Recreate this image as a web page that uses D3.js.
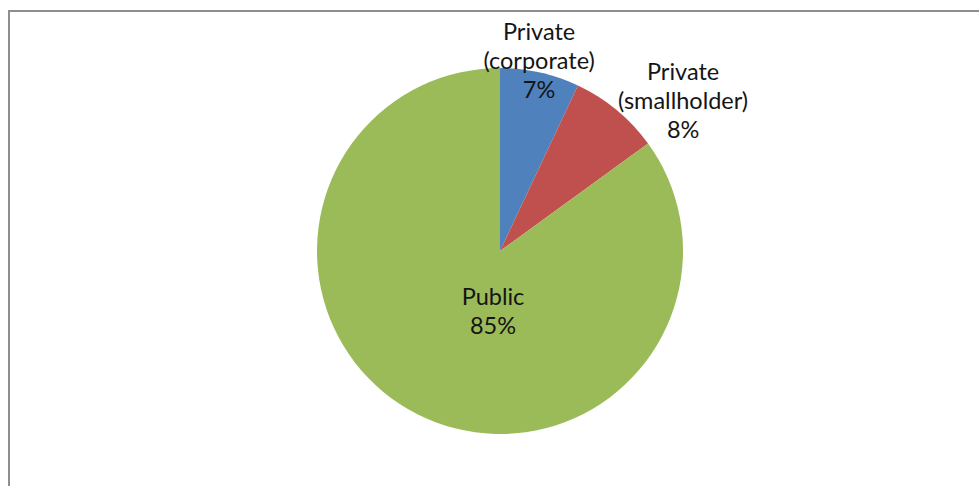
<!DOCTYPE html>
<html>
<head>
<meta charset="utf-8">
<script src="https://cdn.jsdelivr.net/npm/d3@7"></script>
<style>
  html, body { margin: 0; padding: 0; background: #fff; }
  svg { display: block; }
</style>
</head>
<body>
<svg id="chart" width="979" height="486"></svg>
<script>
// Ownership shares (%)
const categories = ["Private (corporate)", "Private (smallholder)", "Public"];
const values = [7, 8, 85];
const labelLines = [["Private", "(corporate)", "7%"], ["Private", "(smallholder)", "8%"], ["Public", "85%"]];
const colors = ["#4F81BD", "#C0504D", "#9BBB59"];

const W = 979, H = 486;
const cx = 500, cy = 251, R = 183;
const lineH = 29;

const svg = d3.select("#chart");

// chart frame
svg.append("rect")
  .attr("x", 9).attr("y", 11)
  .attr("width", W + 20).attr("height", H + 20)
  .attr("fill", "#fff")
  .attr("stroke", "#8e8e8e")
  .attr("stroke-width", 2);

const pie = d3.pie().sort(null).value(d => d)(values);
const arc = d3.arc().innerRadius(0).outerRadius(R);

const g = svg.append("g").attr("transform", `translate(${cx},${cy})`);

g.selectAll("path.slice")
  .data(pie)
  .enter().append("path")
  .attr("class", "slice")
  .attr("d", arc)
  .attr("fill", (d, i) => colors[i]);

// label placement: anchor point on the slice's mid-angle at a given radius
const placement = [
  { r: 193, dx: -3, dy: 0 },
  { r: 190, dx: 62, dy: -1.5 },
  { r: 0, dx: -7, dy: 62.5 }
];

pie.forEach((d, i) => {
  const p = placement[i];
  const mid = (d.startAngle + d.endAngle) / 2;
  const x = p.r * Math.sin(mid) + p.dx;
  const y = -p.r * Math.cos(mid) + p.dy;
  const lines = labelLines[i];
  const t = g.append("text")
    .attr("text-anchor", "middle")
    .attr("font-family", "Lato, 'Open Sans', sans-serif")
    .attr("font-size", 23.5)
    .attr("fill", "#151515");
  const first = y - (lines.length - 1) * lineH / 2 + 6;
  lines.forEach((ln, k) => {
    t.append("tspan").attr("x", x).attr("y", first + k * lineH).text(ln);
  });
});
</script>
</body>
</html>
